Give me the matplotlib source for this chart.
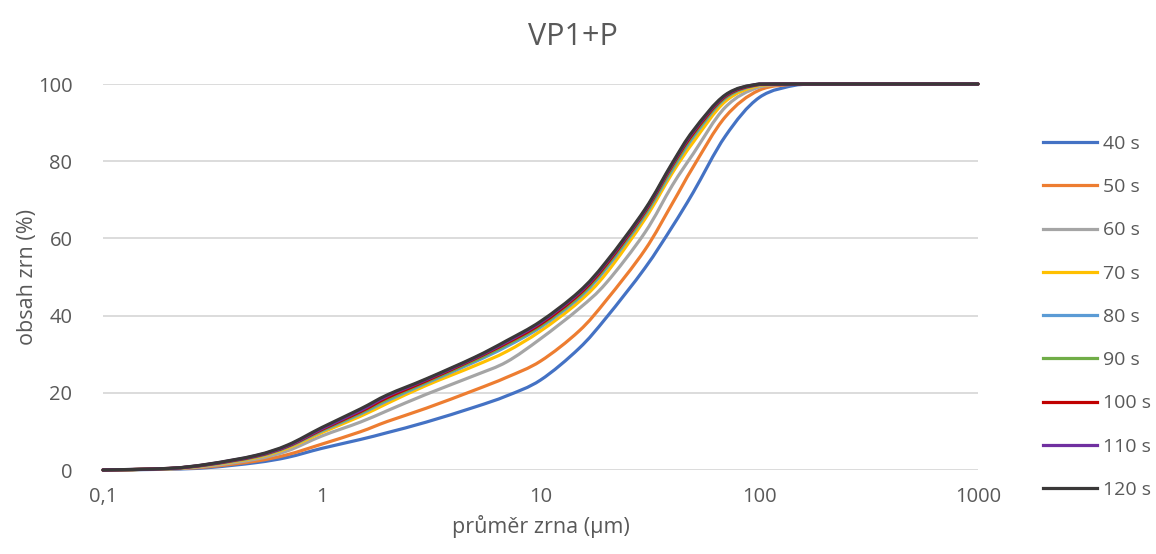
import numpy as np
import matplotlib.pyplot as plt
from matplotlib.path import Path
from matplotlib.patches import PathPatch
from matplotlib.lines import Line2D

plt.rcParams['font.family'] = ['Open Sans', 'DejaVu Sans']

# průměr zrna (µm)
prumer = [0.1, 0.2, 0.3, 0.5, 0.7, 1, 1.5, 2, 3, 5, 7, 10, 15, 20, 30, 40, 50, 70,
          100, 150, 200, 500, 1000]

# obsah zrn (%) pro jednotlivé časy mletí
s40 = [0, 0.2, 0.6, 1.9, 3.3, 5.6, 7.9, 9.7, 12.4, 16.3, 19.2, 23.3, 31.5, 39.5, 52.3,
       63.0, 72.0, 86.5, 96.5, 99.8, 100, 100, 100]
s50 = [0, 0.3, 0.8, 2.3, 4.0, 6.7, 9.9, 12.6, 16.0, 20.7, 24.0, 28.2, 36.0, 44.0, 57.0,
       69.0, 78.6, 91.5, 98.4, 100, 100, 100, 100]
s60 = [0, 0.3, 1.0, 2.8, 5.0, 8.8, 12.4, 15.4, 19.6, 24.5, 28.0, 34.0, 41.8, 48.5, 61.5,
       73.7, 82.0, 94.0, 99.2, 100, 100, 100, 100]
s70 = [0, 0.35, 1.2, 3.2, 5.7, 9.7, 13.9, 17.3, 21.9, 27.0, 30.7, 36.0, 43.6, 51.0, 65.0,
       76.9, 85.0, 95.5, 99.6, 100, 100, 100, 100]
s80 = [0, 0.37, 1.3, 3.4, 6.0, 10.1, 14.5, 18.0, 22.5, 28.0, 32.0, 37.0, 44.6, 52.3, 66.0,
       77.8, 86.3, 96.3, 99.8, 100, 100, 100, 100]
s90 = [0, 0.38, 1.35, 3.5, 6.1, 10.3, 14.8, 18.4, 22.8, 28.4, 32.5, 37.4, 45.0, 52.8, 66.4,
       78.3, 86.8, 96.5, 99.9, 100, 100, 100, 100]
s100 = [0, 0.4, 1.4, 3.6, 6.2, 10.5, 15.1, 18.8, 23.1, 28.8, 32.9, 37.8, 45.5, 53.3, 66.9,
        78.9, 87.3, 96.8, 99.9, 100, 100, 100, 100]
s110 = [0, 0.4, 1.45, 3.7, 6.3, 10.7, 15.4, 19.2, 23.4, 29.0, 33.2, 38.2, 45.9, 53.7, 67.2,
        79.2, 87.7, 97.0, 100, 100, 100, 100, 100]
s120 = [0, 0.42, 1.5, 3.8, 6.5, 11.0, 15.8, 19.5, 23.6, 29.2, 33.5, 38.5, 46.2, 54.0, 67.5,
        79.5, 88.0, 97.2, 100, 100, 100, 100, 100]

serie = [s40, s50, s60, s70, s80, s90, s100, s110, s120]
popisky = ['40 s', '50 s', '60 s', '70 s', '80 s', '90 s', '100 s', '110 s', '120 s']
barvy = ['#4472C4', '#ED7D31', '#A5A5A5', '#FFC000', '#5B9BD5', '#70AD47',
         '#C00000', '#7030A0', '#3A3838']

x_ticks = [0.1, 1, 10, 100, 1000]
x_ticklabels = ['0,1', '1', '10', '100', '1000']


def vyhlazena_cesta(x, y):
    # vyhlazená čára jako v Excelu (Catmull-Rom -> Bezier v log prostoru)
    lx = np.log10(np.asarray(x, float))
    y = np.asarray(y, float)
    n = len(lx)
    P = np.column_stack([lx, y])
    verts = [P[0]]
    codes = [Path.MOVETO]
    for i in range(n - 1):
        p0 = P[max(i - 1, 0)]
        p1 = P[i]
        p2 = P[i + 1]
        p3 = P[min(i + 2, n - 1)]
        c1 = p1 + (p2 - p0) / 6
        c2 = p2 - (p3 - p1) / 6
        verts += [c1, c2, p2]
        codes += [Path.CURVE4] * 3
    verts = np.array(verts)
    verts[:, 1] = np.clip(verts[:, 1], 0, 100)
    verts[:, 0] = 10 ** verts[:, 0]
    return Path(verts, codes)


fig = plt.figure(figsize=(11.56, 5.54), dpi=100)
ax = fig.add_axes([103 / 1156, 1 - 470 / 554, (978 - 103) / 1156, (470 - 84) / 554])
ax.set_xscale('log')
ax.set_xlim(0.1, 1000)
ax.set_ylim(0, 100)

for hodnoty, barva in zip(serie, barvy):
    patch = PathPatch(vyhlazena_cesta(prumer, hodnoty), facecolor='none',
                      edgecolor=barva, lw=2.3, clip_on=False, zorder=3,
                      capstyle='round', joinstyle='round')
    ax.add_patch(patch)

ax.set_yticks(range(0, 101, 20))
ax.set_xticks(x_ticks)
ax.set_xticklabels(x_ticklabels)
ax.xaxis.set_minor_locator(plt.NullLocator())
ax.grid(axis='y', color='#D9D9D9', lw=1.3)
ax.set_axisbelow(True)
for s in ax.spines.values():
    s.set_visible(False)
ax.tick_params(axis='both', length=0, labelsize=14.5, colors='#595959')
ax.tick_params(axis='y', pad=22)
ax.tick_params(axis='x', pad=12)

ax.set_xlabel('průměr zrna (µm)', fontsize=15.5, color='#595959', labelpad=6)
ax.set_ylabel('obsah zrn (%)', fontsize=15.5, color='#595959', labelpad=0)
fig.suptitle('VP1+P', fontsize=22, color='#595959', x=0.496, y=0.96)

handles = [Line2D([], [], color=b, lw=2.3) for b in barvy]
fig.legend(handles, popisky, loc='upper left', bbox_to_anchor=(1035 / 1156, 1 - 127 / 554),
           frameon=False, fontsize=14, labelcolor='#595959', handlelength=2.78,
           handletextpad=0.3, labelspacing=1.3, borderaxespad=0)

fig.savefig('out.png', dpi=100)
